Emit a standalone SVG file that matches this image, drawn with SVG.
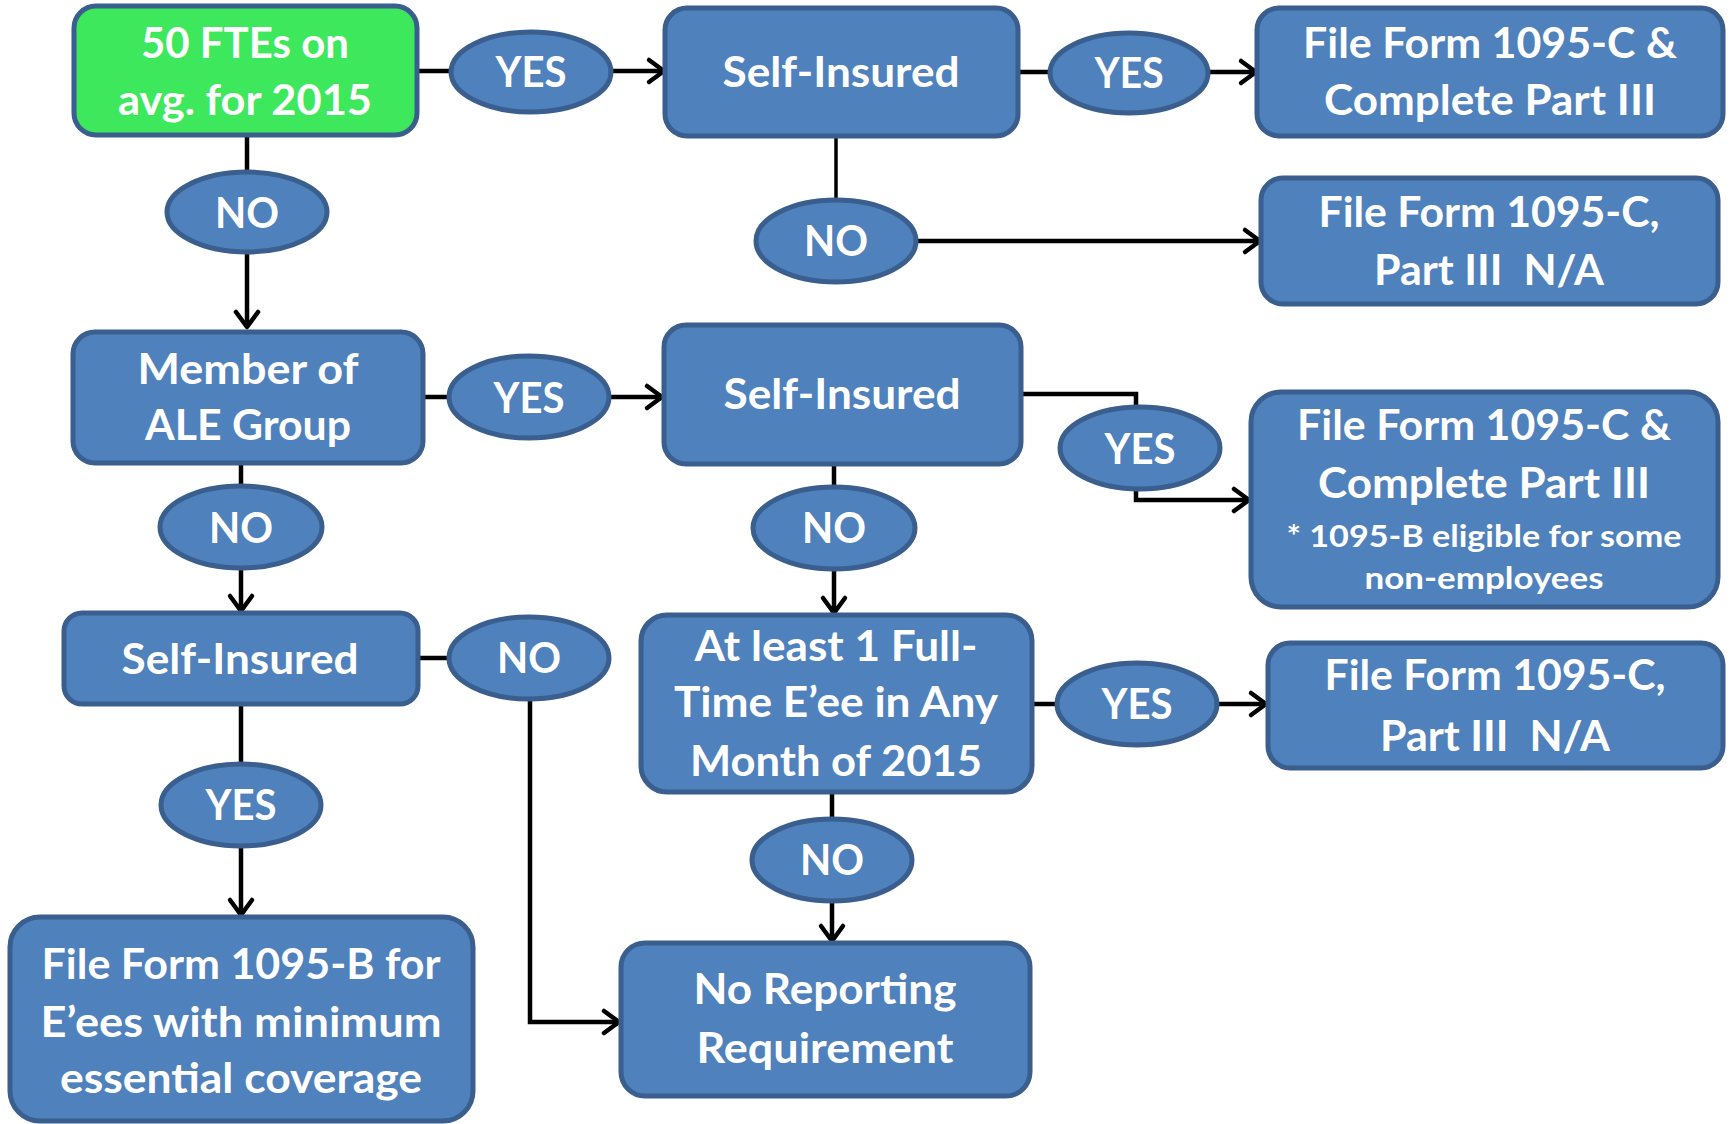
<svg xmlns="http://www.w3.org/2000/svg" width="1732" height="1124" viewBox="0 0 1732 1124">
<defs>
<marker id="arr" markerUnits="userSpaceOnUse" markerWidth="26" markerHeight="30" viewBox="0 0 26 30" refX="22" refY="15" orient="auto">
<path d="M7,4 L22,15 L7,26" fill="none" stroke="#000" stroke-width="4.5" stroke-linecap="round" stroke-linejoin="round"/>
</marker>
</defs>
<style>
.box{fill:#4F81BD;stroke:#3A5F8E;stroke-width:5}
.green{fill:#3DE85C;stroke:#3A5F8E;stroke-width:5}
.oval{fill:#4F81BD;stroke:#3A5F8E;stroke-width:5}
text{font-family:Lato,"Liberation Sans",sans-serif;font-weight:bold;fill:#fff;font-size:42px;text-anchor:middle}
.sm{font-size:31px}
.c{fill:none;stroke:#000;stroke-width:4.5}
.ca{fill:none;stroke:#000;stroke-width:4.5;marker-end:url(#arr)}
</style>
<rect width="1732" height="1124" fill="#fff"/>
<g id="connectors">
<path class="c" d="M417,71 H452"/>
<path class="ca" d="M611,71 H664"/>
<path class="c" d="M1018,72 H1050"/>
<path class="ca" d="M1208,72 H1256"/>
<path class="c" d="M836,136 V200" style="stroke-width:3.5"/>
<path class="ca" d="M917,241 H1260"/>
<path class="c" d="M247,135 V172"/>
<path class="ca" d="M247,252 V327"/>
<path class="c" d="M423,397 H448"/>
<path class="ca" d="M609,397 H662"/>
<path class="c" d="M241,463 V487"/>
<path class="ca" d="M241,568 V611"/>
<path class="c" d="M1021,394 H1136 V407"/>
<path class="ca" d="M1136,489 V500 H1249"/>
<path class="c" d="M834,464 V487"/>
<path class="ca" d="M834,569 V613"/>
<path class="c" d="M418,658 H448"/>
<path class="ca" d="M530,699 V1022 H619"/>
<path class="c" d="M241,704 V764"/>
<path class="ca" d="M241,846 V915"/>
<path class="c" d="M1032,704 H1057"/>
<path class="ca" d="M1217,704 H1266"/>
<path class="c" d="M832,792 V819"/>
<path class="ca" d="M832,901 V941"/>
</g>
<g id="n_fte">
<rect class="green" x="74" y="6" width="343" height="129" rx="22"/>
<text x="245" y="58" textLength="208" lengthAdjust="spacingAndGlyphs">50 FTEs on</text>
<text x="245" y="115" textLength="254" lengthAdjust="spacingAndGlyphs">avg. for 2015</text>
</g>
<g id="e_yes1"><ellipse class="oval" cx="531" cy="72" rx="80" ry="40"/><text x="531" y="87" textLength="71" lengthAdjust="spacingAndGlyphs">YES</text></g>
<g id="n_self1">
<rect class="box" x="665" y="8" width="353" height="128" rx="22"/>
<text x="841" y="87" textLength="237" lengthAdjust="spacingAndGlyphs">Self-Insured</text>
</g>
<g id="e_yes2"><ellipse class="oval" cx="1129" cy="73" rx="79" ry="40"/><text x="1129" y="88" textLength="69" lengthAdjust="spacingAndGlyphs">YES</text></g>
<g id="n_file1">
<rect class="box" x="1257" y="8" width="466" height="128" rx="22"/>
<text x="1490" y="58" textLength="374" lengthAdjust="spacingAndGlyphs">File Form 1095-C &amp;</text>
<text x="1490" y="115" textLength="332" lengthAdjust="spacingAndGlyphs">Complete Part III</text>
</g>
<g id="e_no1"><ellipse class="oval" cx="836" cy="241" rx="80" ry="41"/><text x="836" y="256" textLength="64" lengthAdjust="spacingAndGlyphs">NO</text></g>
<g id="n_file2">
<rect class="box" x="1261" y="178" width="457" height="126" rx="22"/>
<text x="1489" y="227" textLength="341" lengthAdjust="spacingAndGlyphs">File Form 1095-C,</text>
<text x="1489" y="285" textLength="230" lengthAdjust="spacingAndGlyphs" xml:space="preserve">Part III  N/A</text>
</g>
<g id="e_no0"><ellipse class="oval" cx="247" cy="212" rx="80" ry="40"/><text x="247" y="228" textLength="64" lengthAdjust="spacingAndGlyphs">NO</text></g>
<g id="n_ale">
<rect class="box" x="73" y="332" width="350" height="131" rx="22"/>
<text x="248" y="384" textLength="221" lengthAdjust="spacingAndGlyphs">Member of</text>
<text x="248" y="440" textLength="206" lengthAdjust="spacingAndGlyphs">ALE Group</text>
</g>
<g id="e_yes3"><ellipse class="oval" cx="529" cy="397" rx="80" ry="41"/><text x="529" y="413" textLength="71" lengthAdjust="spacingAndGlyphs">YES</text></g>
<g id="n_self2">
<rect class="box" x="664" y="325" width="357" height="139" rx="22"/>
<text x="842" y="409" textLength="237" lengthAdjust="spacingAndGlyphs">Self-Insured</text>
</g>
<g id="e_yes4"><ellipse class="oval" cx="1140" cy="448" rx="80" ry="41"/><text x="1140" y="464" textLength="71" lengthAdjust="spacingAndGlyphs">YES</text></g>
<g id="n_file3">
<rect class="box" x="1251" y="392" width="467" height="215" rx="30"/>
<text x="1484" y="440" textLength="374" lengthAdjust="spacingAndGlyphs">File Form 1095-C &amp;</text>
<text x="1484" y="498" textLength="332" lengthAdjust="spacingAndGlyphs">Complete Part III</text>
<text class="sm" x="1484" y="547" textLength="395" lengthAdjust="spacingAndGlyphs">* 1095-B eligible for some</text>
<text class="sm" x="1484" y="589" textLength="239" lengthAdjust="spacingAndGlyphs">non-employees</text>
</g>
<g id="e_no2"><ellipse class="oval" cx="241" cy="527" rx="81" ry="41"/><text x="241" y="543" textLength="64" lengthAdjust="spacingAndGlyphs">NO</text></g>
<g id="e_no3"><ellipse class="oval" cx="834" cy="528" rx="81" ry="41"/><text x="834" y="543" textLength="64" lengthAdjust="spacingAndGlyphs">NO</text></g>
<g id="n_self3">
<rect class="box" x="64" y="613" width="354" height="91" rx="18"/>
<text x="240" y="674" textLength="237" lengthAdjust="spacingAndGlyphs">Self-Insured</text>
</g>
<g id="e_no4"><ellipse class="oval" cx="529" cy="658" rx="80" ry="41"/><text x="529" y="673" textLength="64" lengthAdjust="spacingAndGlyphs">NO</text></g>
<g id="n_ft">
<rect class="box" x="641" y="615" width="391" height="177" rx="26"/>
<text x="836" y="661" textLength="283" lengthAdjust="spacingAndGlyphs">At least 1 Full-</text>
<text x="836" y="717" textLength="324" lengthAdjust="spacingAndGlyphs">Time E’ee in Any</text>
<text x="836" y="776" textLength="292" lengthAdjust="spacingAndGlyphs">Month of 2015</text>
</g>
<g id="e_yes5"><ellipse class="oval" cx="1137" cy="704" rx="80" ry="41"/><text x="1137" y="719" textLength="71" lengthAdjust="spacingAndGlyphs">YES</text></g>
<g id="n_file4">
<rect class="box" x="1268" y="643" width="455" height="125" rx="22"/>
<text x="1495" y="690" textLength="341" lengthAdjust="spacingAndGlyphs">File Form 1095-C,</text>
<text x="1495" y="751" textLength="230" lengthAdjust="spacingAndGlyphs" xml:space="preserve">Part III  N/A</text>
</g>
<g id="e_yes6"><ellipse class="oval" cx="241" cy="805" rx="80" ry="41"/><text x="241" y="820" textLength="71" lengthAdjust="spacingAndGlyphs">YES</text></g>
<g id="e_no5"><ellipse class="oval" cx="832" cy="860" rx="80" ry="41"/><text x="832" y="875" textLength="64" lengthAdjust="spacingAndGlyphs">NO</text></g>
<g id="n_1095b">
<rect class="box" x="10" y="917" width="463" height="204" rx="30"/>
<text x="241" y="979" textLength="399" lengthAdjust="spacingAndGlyphs">File Form 1095-B for</text>
<text x="241" y="1037" textLength="401" lengthAdjust="spacingAndGlyphs">E’ees with minimum</text>
<text x="241" y="1093" textLength="362" lengthAdjust="spacingAndGlyphs">essential coverage</text>
</g>
<g id="n_norep">
<rect class="box" x="621" y="943" width="409" height="153" rx="24"/>
<text x="825" y="1004" textLength="263" lengthAdjust="spacingAndGlyphs">No Reporting</text>
<text x="825" y="1063" textLength="257" lengthAdjust="spacingAndGlyphs">Requirement</text>
</g>
</svg>
